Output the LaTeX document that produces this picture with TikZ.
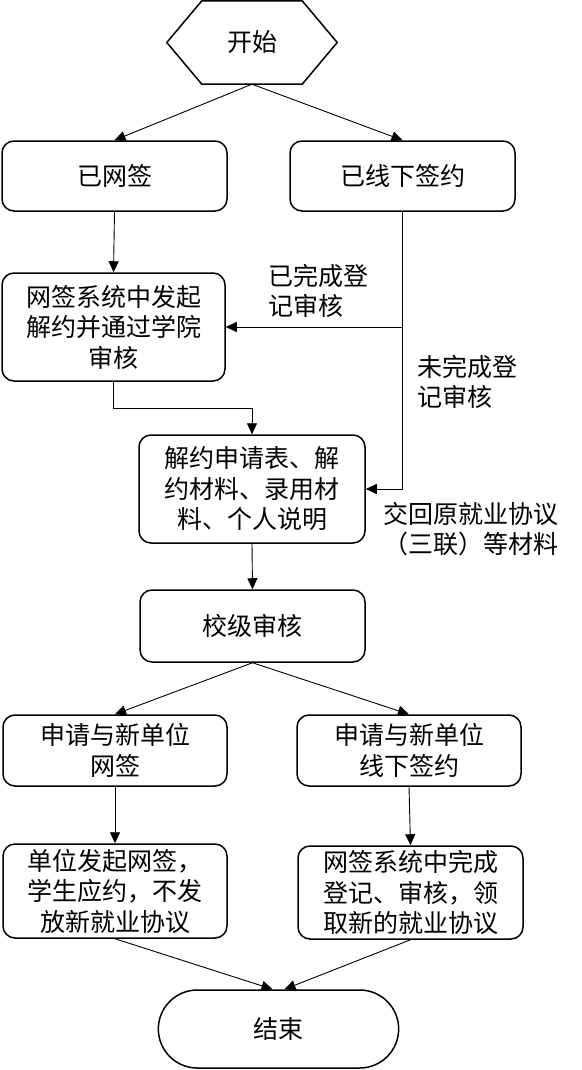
\documentclass[tikz,border=0pt]{standalone}
\usepackage{fontspec}
\setmainfont{Noto Sans CJK SC}
\usetikzlibrary{arrows.meta,shapes.misc,calc}

\begin{document}
\begin{tikzpicture}[x=1pt,y=-1pt,
  every node/.style={font=\fontsize{25}{30.5}\selectfont,align=center},
  box/.style={draw,line width=1.5pt,rounded corners=12pt,minimum width=224pt,inner sep=0pt},
  arr/.style={-{Triangle[length=11pt,width=10pt]},line width=0.9pt},
  lbl/.style={align=left}]
  \path[use as bounding box] (0,0) rectangle (581,1070);

  % Start hexagon: an empty frame node, outline drawn round it.
  \node[minimum width=170pt,minimum height=83pt,inner sep=0pt] (start) at (252,42.5) {开始};
  \draw[line width=1.5pt] (start.west) -- ($(start.north west)+(35,0)$) -- ($(start.north east)+(-35,0)$)
    -- (start.east) -- ($(start.south east)+(-35,0)$) -- ($(start.south west)+(35,0)$) -- cycle;

  % Upper part: the two ways the contract was signed.
  \node[box,minimum width=225pt,minimum height=70pt] (signed) at (114.5,176) {已网签};
  \node[box,minimum width=225pt,minimum height=70pt] (offline) at (402.5,176) {已线下签约};
  \node[box,minimum width=223pt,minimum height=108pt] (sysrevoke) at (113.5,327) {网签系统中发起\\解约并通过学院\\审核};
  \node[box,minimum width=226pt,minimum height=108pt] (docs) at (252,489) {解约申请表、解\\约材料、录用材\\料、个人说明};
  \node[box,minimum width=225pt,minimum height=72pt] (school) at (252.5,626) {校级审核};

  \node[lbl] (donelbl) at (318,291) {已完成登\\记审核};
  \node[lbl] (undonelbl) at (467,382) {未完成登\\记审核};
  \node (returnlbl) at (471,529) {交回原就业协议\\（三联）等材料};

  % Lower part: signing with the new employer.
  \node[box,minimum height=71pt] (newnet) at (115,750.5) {申请与新单位\\网签};
  \node[box,minimum height=71pt] (newoff) at (409,750.5) {申请与新单位\\线下签约};
  \node[box,minimum height=94pt] (netsign) at (115,891) {单位发起网签，\\学生应约，不发\\放新就业协议};
  \node[box,minimum width=225pt,minimum height=93pt] (regnew) at (410.5,892.5) {网签系统中完成\\登记、审核，领\\取新的就业协议};
  \node[draw,line width=1.5pt,rounded rectangle,minimum width=247pt,minimum height=78pt] (finish) at (278.5,1029) {结束};

  \draw[arr] (start.south) -- (signed.north);
  \draw[arr] (start.south) -- (offline.north);
  \draw[arr] (signed.south) -- (sysrevoke.north);
  \draw[arr] (offline.south) |- (docs.east);
  \draw[arr] (offline.south |- sysrevoke.east) -- (sysrevoke.east);
  \draw[arr] (sysrevoke.south) -- ++(0,27) -| (docs.north);
  \draw[arr] (docs.south) -- (school.north);
  \draw[arr] (school.south) -- (newnet.north);
  \draw[arr] (school.south) -- (newoff.north);
  \draw[arr] (newnet.south) -- (netsign.north);
  \draw[arr] (newoff.south) -- (regnew.north);
  \draw[arr] (netsign.south) -- ([xshift=-6pt]finish.north);
  \draw[arr] (regnew.south) -- ([xshift=6pt]finish.north);
\end{tikzpicture}
\end{document}
